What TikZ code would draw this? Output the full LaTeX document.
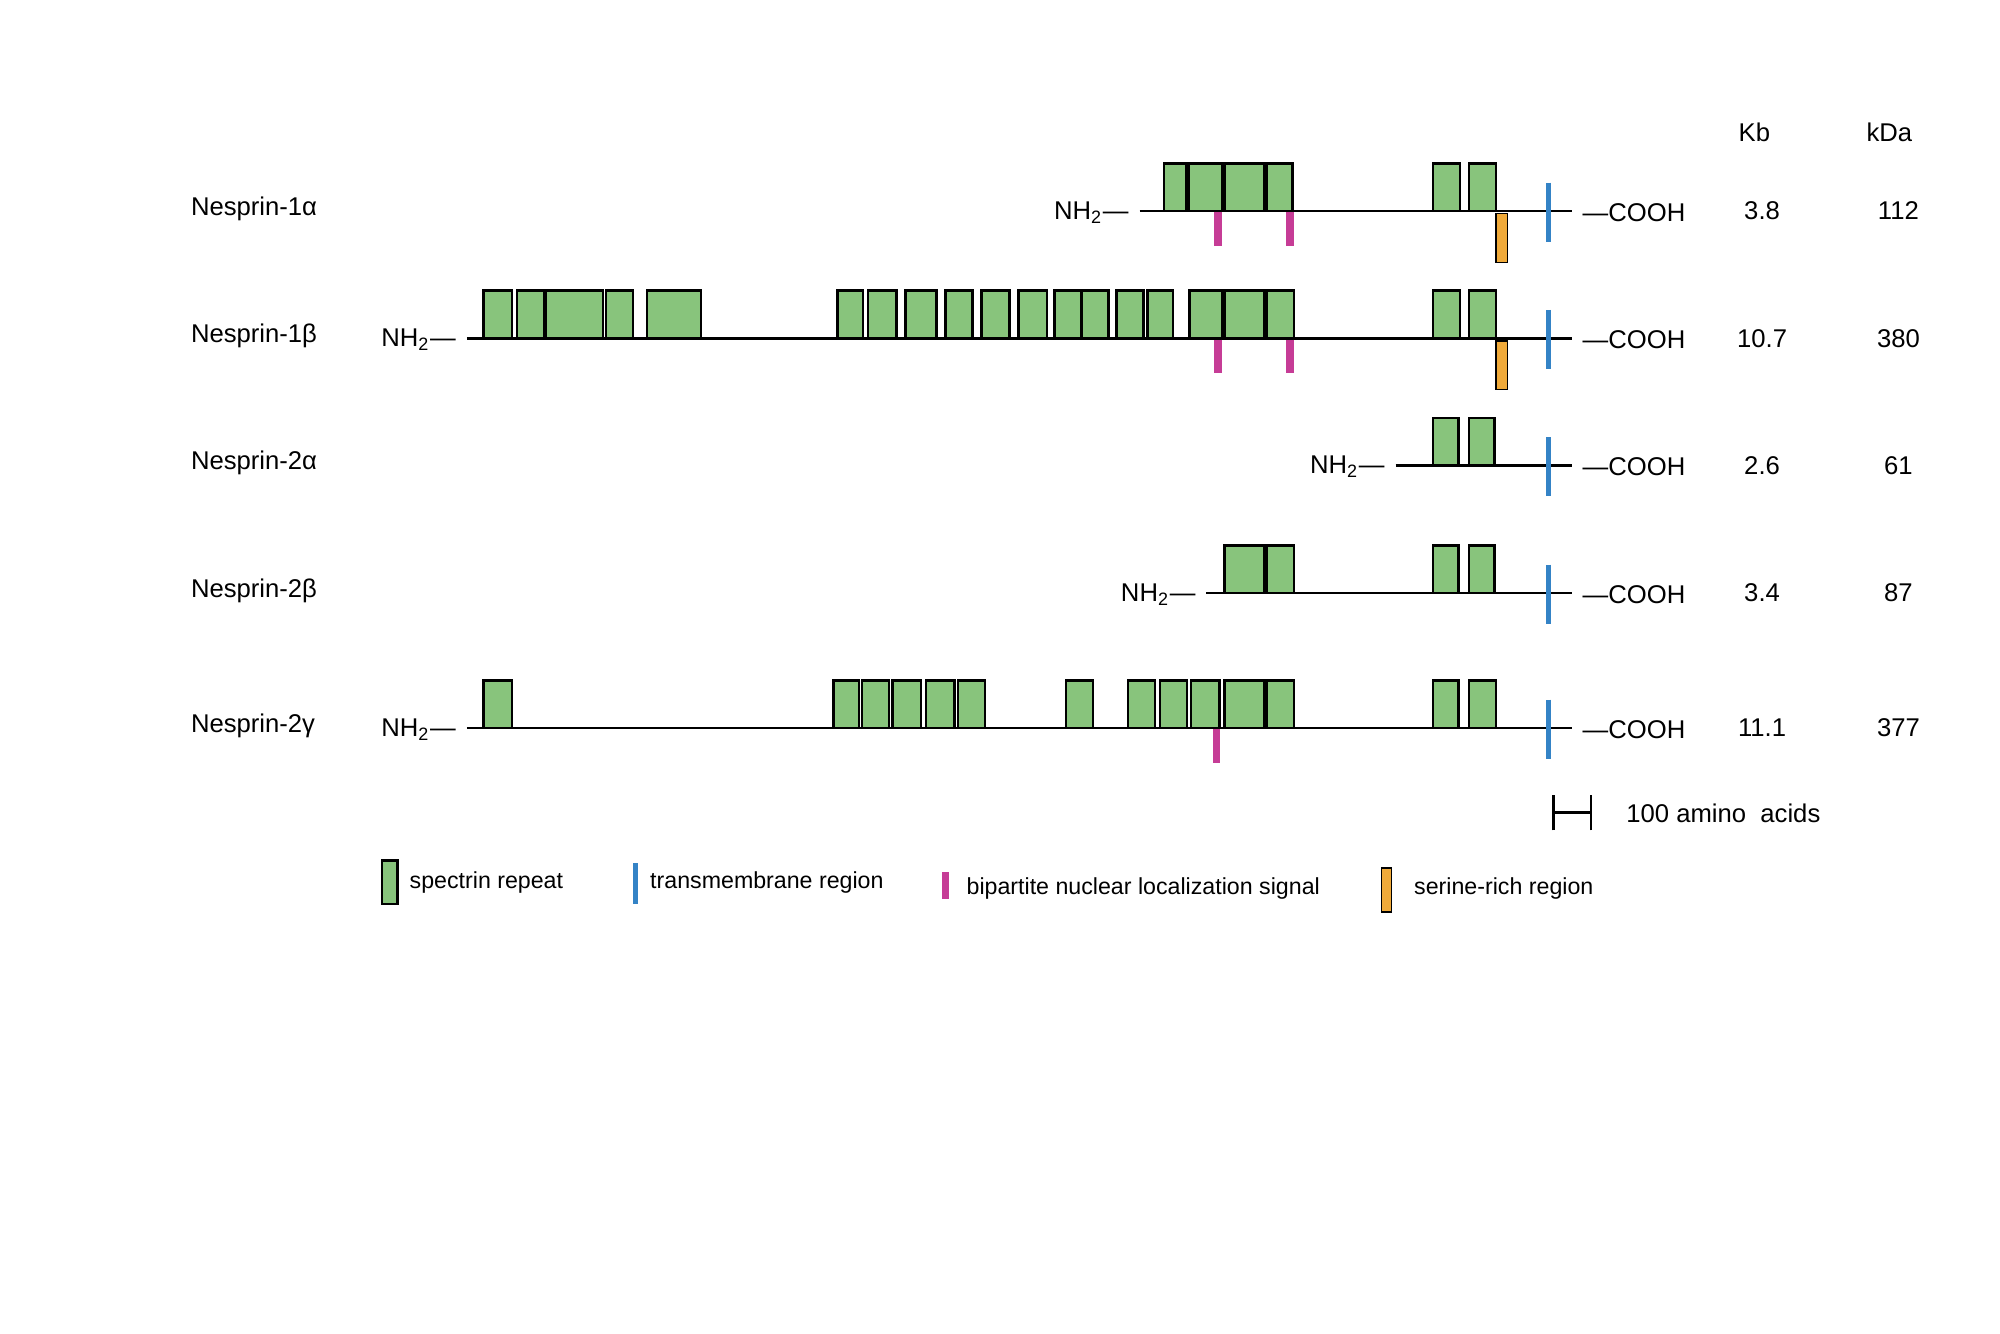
\documentclass[tikz,border=0pt]{standalone}
\usepackage{fontspec}
\setmainfont{Liberation Sans}
\definecolor{spec}{HTML}{88C47C}
\definecolor{tmblue}{HTML}{3483C6}
\definecolor{nlspink}{HTML}{C63C96}
\definecolor{serorange}{HTML}{F0AA3A}
\begin{document}
\begin{tikzpicture}[x=0.012862cm, y=-0.012862cm,
  lbl/.style={font=\fontsize{7.3}{9}\selectfont, inner sep=0pt},
  leg/.style={font=\fontsize{6.6}{8}\selectfont, inner sep=0pt, anchor=west},
  backbone/.style={line width=0.8pt},
  repeat/.style={draw=black, fill=spec, line width=0.7pt},
  tm/.style={tmblue, line width=1.4pt},
  nls/.style={nlspink, line width=2.1pt},
  ser/.style={draw=black, fill=serorange, line width=0.4pt}]
  \useasboundingbox (0,0) rectangle (1555,1037);
  % header
  \node[lbl] (kb) at (1364,103) {Kb};
  \node[lbl] (kda) at (1469,103) {kDa};
  % rows: name / line y / NH2 end / kb / kDa
  \foreach \name/\y/\nx/\kb/\kda/\id in {%
      Nesprin-1α/164/886/3.8/112/a, Nesprin-1β/263/363/10.7/380/b,
      Nesprin-2α/362/1085/2.6/61/c, Nesprin-2β/461/938/3.4/87/d,
      Nesprin-2γ/566/363/11.1/377/e}{
    \node[lbl, anchor=west] (name\id) at (148,\y-2) {\name};
    \coordinate (s\id) at (\nx,\y);
    \coordinate (e\id) at (1222,\y);
    \draw[backbone] (s\id) -- (e\id);
    \node[lbl, anchor=east] (nh\id) at (\nx-8,\y+1) {NH\textsubscript{2}—};
    \node[lbl, anchor=west] (co\id) at (1230,\y+1) {—COOH};
    \node[lbl] (kb\id) at (1370,\y) {\kb};
    \node[lbl] (kda\id) at (1476,\y) {\kda};
    \draw[tm] (1204,\y-22) -- (1204,\y+24);
  }
  % spectrin repeats
  \foreach \y/\boxes in {%
      164/{905/922,924/950,952/983,985/1005,1114/1135,1142/1163},
      263/{376/398,402/423,424/469,471/492,503/545,651/671,675/697,704/728,735/756,763/785,792/814,820/841,841/862,868/889,892/912,925/950,952/983,985/1006,1114/1135,1142/1163},
      362/{1114/1134,1142/1162},
      461/{952/983,985/1006,1114/1134,1142/1162},
      566/{376/398,648/668,670/691,694/716,720/742,745/766,829/850,877/898,902/923,926/948,952/983,985/1006,1114/1134,1142/1163}}{
    \foreach \a/\b in \boxes
      \draw[repeat] (\a,\y-37) rectangle (\b,\y);
  }
  % nuclear localization signals
  \foreach \x/\y in {947/164,1003/164,947/263,1003/263,946/566}
    \draw[nls] (\x,\y+1) -- (\x,\y+27);
  % serine-rich regions
  \foreach \y in {164,263}
    \draw[ser] (1163,\y+2) rectangle (1172,\y+40);
  % scale bar
  \coordinate (sb1) at (1208,632);
  \coordinate (sb2) at (1237,632);
  \draw[line width=0.8pt] (sb1) -- (sb2);
  \draw[line width=0.8pt] ([yshift=-5]sb1) -- ([yshift=5]sb1);
  \draw[line width=0.8pt] ([yshift=-5]sb2) -- ([yshift=5]sb2);
  \node[lbl, anchor=west] (sbt) at (1264,632) {100 amino\ \ acids};
  % legend
  \draw[repeat] (297,669) rectangle (309,703);
  \node[leg] (l1) at (318,686) {spectrin repeat};
  \draw[tm] (494,671) -- (494,703);
  \node[leg] (l2) at (505,686) {transmembrane region};
  \draw[nls] (735,678) -- (735,699);
  \node[leg] (l3) at (751,691) {bipartite nuclear localization signal};
  \draw[ser] (1074,675) rectangle (1082,709);
  \node[leg] (l4) at (1099,691) {serine-rich region};
\end{tikzpicture}
\end{document}
